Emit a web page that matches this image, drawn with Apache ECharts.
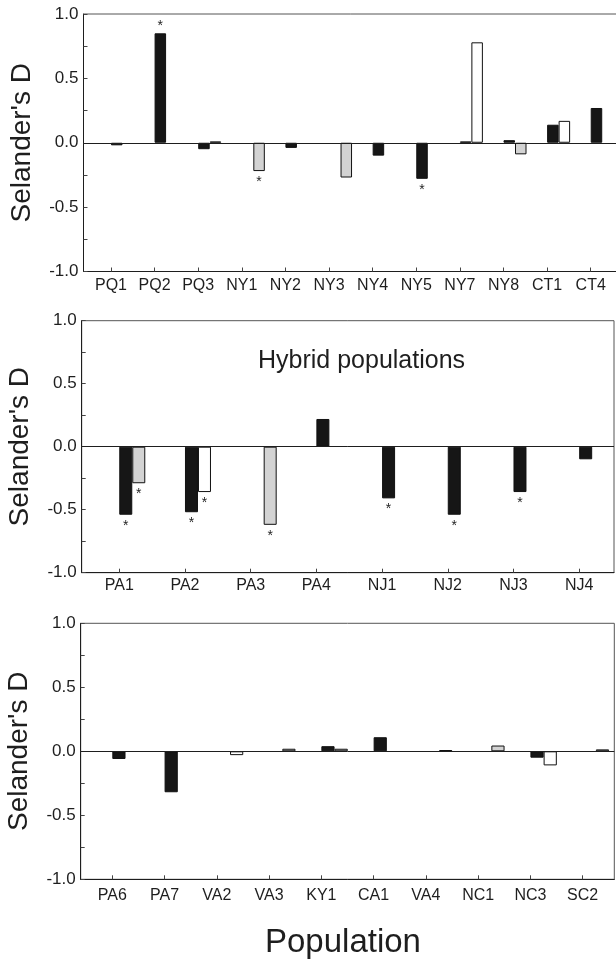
<!DOCTYPE html>
<html>
<head>
<meta charset="utf-8">
<title>Selander's D</title>
<script src="https://cdn.jsdelivr.net/npm/echarts@6.0.0/dist/echarts.min.js"></script>
<style>
	html, body { margin: 0; padding: 0; background: #fff; }
	#chart { width: 616px; height: 959px; }
</style>
</head>
<body>
<div id="chart"></div>
<script>
// 上图
var cats1 = ["PQ1", "PQ2", "PQ3", "NY1", "NY2", "NY3", "NY4", "NY5", "NY7", "NY8", "CT1", "CT4"];
var black1 = [-0.02, 0.85, -0.05, null, -0.04, null, -0.10, -0.28, 0.01, 0.02, 0.14, 0.27];
var gray1 = [null, null, null, -0.22, null, -0.27, null, null, null, -0.09, null, null];
var white1 = [null, null, 0.01, null, null, null, null, null, 0.78, null, 0.17, null];
var starBlack1 = ["PQ2", "NY5"];
var starGray1 = ["NY1"];
var starWhite1 = [];

// 中图 (Hybrid populations)
var cats2 = ["PA1", "PA2", "PA3", "PA4", "NJ1", "NJ2", "NJ3", "NJ4"];
var black2 = [-0.54, -0.52, null, 0.22, -0.41, -0.54, -0.36, -0.10];
var gray2 = [-0.29, null, -0.62, null, null, null, null, null];
var white2 = [null, -0.36, null, null, null, null, null, null];
var starBlack2 = ["PA1", "PA2", "NJ1", "NJ2", "NJ3"];
var starGray2 = ["PA1", "PA3"];
var starWhite2 = ["PA2"];

// 下图
var cats3 = ["PA6", "PA7", "VA2", "VA3", "KY1", "CA1", "VA4", "NC1", "NC3", "SC2"];
var black3 = [-0.06, -0.32, null, null, 0.04, 0.11, null, null, -0.05, null];
var gray3 = [null, null, null, 0.02, 0.02, null, 0.01, 0.045, null, 0.015];
var white3 = [null, null, -0.03, null, null, null, null, null, -0.11, null];
var starBlack3 = [];
var starGray3 = [];
var starWhite3 = [];

var font = "'Liberation Sans', Arial, Helvetica, sans-serif";
var ink = "#1e1e1e";
var fillBlack = "#161616";
var fillGray = "#d3d3d3";
var fillWhite = "#ffffff";

// 每个图的位置
var layouts = [
	{ left: 83.5, top: 14, width: 560, height: 257.5, min: -0.63, max: 12.21, barWidth: 11.5, labelMargin: 6 },
	{ left: 81.7, top: 320.7, width: 532.3, height: 252, min: -0.572, max: 7.53, barWidth: 13, labelMargin: 5 },
	{ left: 80.7, top: 623.3, width: 533.6, height: 256, min: -0.605, max: 9.605, barWidth: 13.2, labelMargin: 8 }
];

function makeItem(i, v, star, fill) {
	var item = {
		value: [i, v],
		label: {
			show: star,
			position: v < 0 ? "bottom" : "top",
			distance: v < 0 ? 4 : 0
		}
	};
	if (fill) {
		item.itemStyle = { color: fill };
	}
	return item;
}

// 黑色柱
function blackItems(cats, vals, stars) {
	var out = [];
	for (var i = 0; i < vals.length; i++) {
		if (vals[i] === null) continue;
		out.push(makeItem(i, vals[i], stars.indexOf(cats[i]) >= 0, null));
	}
	return out;
}

// 第二个位置：灰色或白色柱
function otherItems(cats, grays, whites, starG, starW) {
	var out = [];
	for (var i = 0; i < cats.length; i++) {
		if (grays[i] !== null) {
			out.push(makeItem(i, grays[i], starG.indexOf(cats[i]) >= 0, fillGray));
		}
		if (whites[i] !== null) {
			out.push(makeItem(i, whites[i], starW.indexOf(cats[i]) >= 0, fillWhite));
		}
	}
	return out;
}

function indexList(cats) {
	var arr = [];
	for (var i = 0; i < cats.length; i++) arr.push(i);
	return arr;
}

var grids = [], xAxes = [], yAxes = [], series = [];

function addPanel(g, cats, blacks, grays, whites, starB, starG, starW) {
	var L = layouts[g];
	grids.push({
		left: L.left, top: L.top, width: L.width, height: L.height,
		show: true, borderColor: "#555", borderWidth: 1,
		containLabel: false, outerBoundsMode: "none"
	});
	xAxes.push({
		gridIndex: g,
		type: "value",
		min: L.min,
		max: L.max,
		axisLine: { show: true, onZero: false, lineStyle: { color: ink, width: 1 } },
		axisTick: { show: true, inside: true, length: 4, customValues: indexList(cats), lineStyle: { color: "#444" } },
		axisLabel: {
			customValues: indexList(cats),
			formatter: function (v) { return cats[Math.round(v)]; },
			fontSize: 16, color: ink, margin: L.labelMargin, fontFamily: font
		},
		splitLine: { show: false }
	});
	yAxes.push({
		gridIndex: g,
		type: "value",
		min: -1,
		max: 1,
		interval: 0.25,
		axisLine: { show: true, onZero: false, lineStyle: { color: ink, width: 1 } },
		axisTick: { show: true, inside: true, length: 4, lineStyle: { color: "#444" } },
		axisLabel: {
			formatter: function (v) {
				if (Math.abs(v * 2 - Math.round(v * 2)) > 1e-6) return "";
				return v.toFixed(1);
			},
			fontSize: 17, color: ink, margin: 5, fontFamily: font
		},
		splitLine: { show: false },
		name: "Selander's D",
		nameLocation: "middle",
		nameGap: 47,
		nameTextStyle: { fontSize: 28, color: ink, fontFamily: font }
	});
	var starLabel = { formatter: "*", fontSize: 14, color: ink, fontFamily: font };
	// 两个空系列把黑柱挤到刻度右侧
	series.push({ type: "bar", xAxisIndex: g, yAxisIndex: g, data: [], barWidth: L.barWidth, barGap: "0%" });
	series.push({ type: "bar", xAxisIndex: g, yAxisIndex: g, data: [], barWidth: L.barWidth, barGap: "0%" });
	series.push({
		type: "bar", name: "black", xAxisIndex: g, yAxisIndex: g,
		barWidth: L.barWidth, barGap: "0%",
		itemStyle: { color: fillBlack, borderColor: "#111", borderWidth: 1 },
		label: starLabel,
		data: blackItems(cats, blacks, starB),
		markLine: {
			silent: true, symbol: "none",
			label: { show: false },
			lineStyle: { color: ink, width: 1, type: "solid" },
			data: [{ yAxis: 0 }]
		}
	});
	series.push({
		type: "bar", name: "other", xAxisIndex: g, yAxisIndex: g,
		barWidth: L.barWidth, barGap: "0%",
		itemStyle: { color: fillGray, borderColor: "#111", borderWidth: 1 },
		label: starLabel,
		data: otherItems(cats, grays, whites, starG, starW)
	});
}

addPanel(0, cats1, black1, gray1, white1, starBlack1, starGray1, starWhite1);
addPanel(1, cats2, black2, gray2, white2, starBlack2, starGray2, starWhite2);
addPanel(2, cats3, black3, gray3, white3, starBlack3, starGray3, starWhite3);

var myChart = echarts.init(document.getElementById("chart"), null, { renderer: "canvas" });
var option = {
	animation: false,
	backgroundColor: "#fff",
	textStyle: { fontFamily: font },
	title: [
		{ text: "Hybrid populations", left: 253, top: 344, textStyle: { fontSize: 25, fontWeight: "normal", color: ink, fontFamily: font } },
		{ text: "Population", left: 260, top: 921, textStyle: { fontSize: 33, fontWeight: "normal", color: ink, fontFamily: font } }
	],
	grid: grids,
	xAxis: xAxes,
	yAxis: yAxes,
	series: series
};
myChart.setOption(option);
</script>
</body>
</html>
